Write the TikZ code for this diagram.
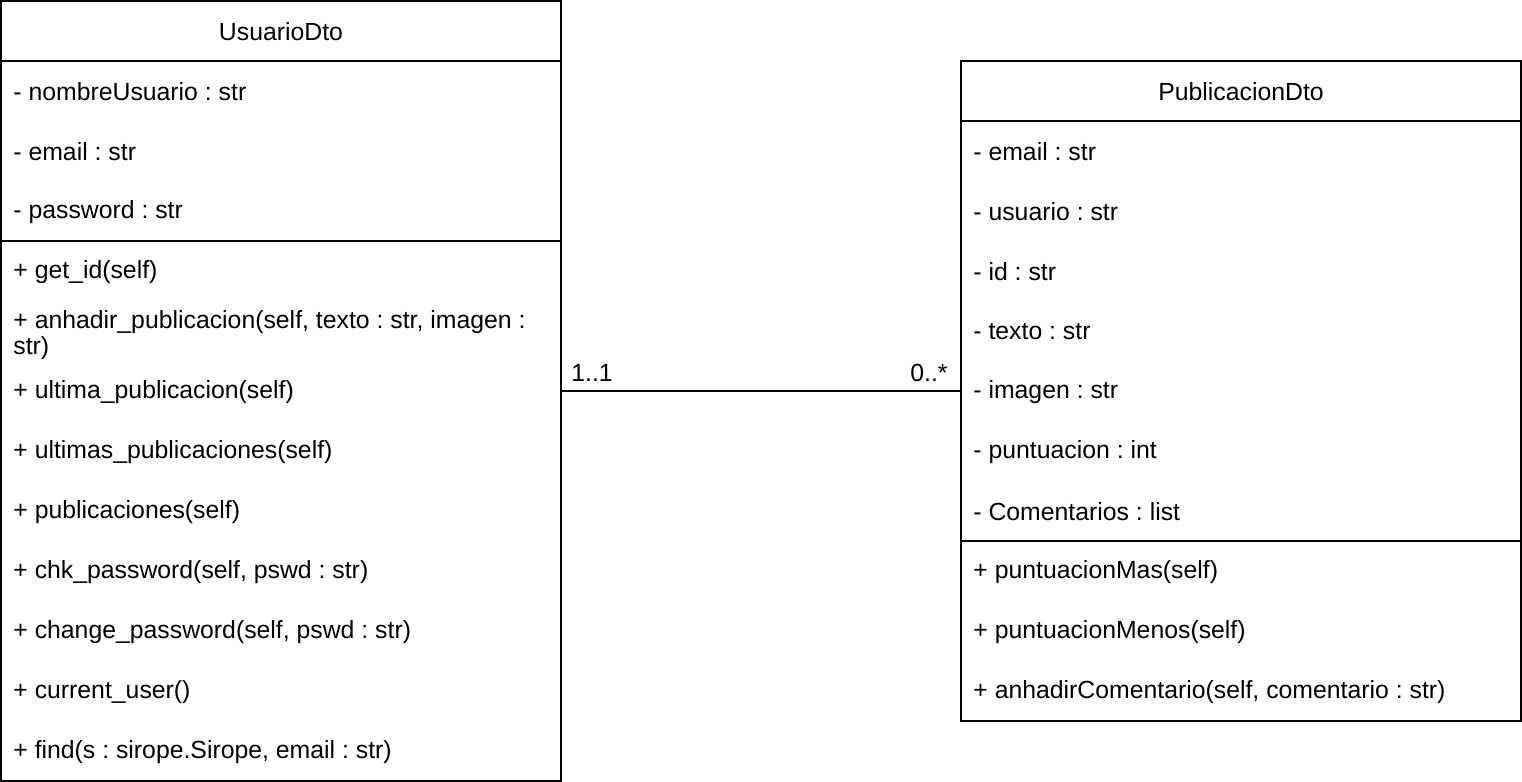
\documentclass[tikz,border=0pt]{standalone}
\usepackage{fontspec}
\setmainfont{Liberation Sans}
\frenchspacing
\begin{document}
\begin{tikzpicture}[
        x=0.5pt, y=-0.5pt,
        classbox/.style={draw, thick, rectangle, inner sep=0pt}, % Caja de clase
        title/.style={font=\fontsize{12.4}{13}\selectfont},
        member/.style={anchor=west, inner sep=0pt, font=\fontsize{12.4}{13}\selectfont, align=left},
        mult/.style={inner sep=0pt, font=\fontsize{12.4}{13}\selectfont},
    ]
    \useasboundingbox (0,0) rectangle (1522,782);

    % UsuarioDto
    \node[classbox, minimum width=280pt, minimum height=390pt] (usuario) at (281,391) {};
    \node[title] (usuarioTitle) at (281,32) {UsuarioDto};
    \draw[thick] (1,61) -- (561,61);
    \node[member] (uNombre) at (13,92) {- nombreUsuario : str};
    \node[member] (uEmail) at (13,152) {- email : str};
    \node[member] (uPassword) at (13,212) {- password : str};
    \draw[thick] (1,241) -- (561,241);
    \node[member] (uGetId) at (13,272) {+ get\_id(self)};
    \node[member] (uAnhadir) at (13,335) {+ anhadir\_publicacion(self, texto : str, imagen :\\str)};
    \node[member] (uUltima) at (13,392) {+ ultima\_publicacion(self)};
    \node[member] (uUltimas) at (13,452) {+ ultimas\_publicaciones(self)};
    \node[member] (uPublicaciones) at (13,512) {+ publicaciones(self)};
    \node[member] (uChk) at (13,572) {+ chk\_password(self, pswd : str)};
    \node[member] (uChange) at (13,632) {+ change\_password(self, pswd : str)};
    \node[member] (uCurrent) at (13,692) {+ current\_user()};
    \node[member] (uFind) at (13,752) {+ find(s : sirope.Sirope, email : str)};

    % PublicacionDto
    \node[classbox, minimum width=280pt, minimum height=330pt] (publicacion) at (1241,391) {};
    \node[title] (publicacionTitle) at (1241,92) {PublicacionDto};
    \draw[thick] (961,121) -- (1521,121);
    \node[member] (pEmail) at (973,152) {- email : str};
    \node[member] (pUsuario) at (973,212) {- usuario : str};
    \node[member] (pId) at (973,272) {- id : str};
    \node[member] (pTexto) at (973,332) {- texto : str};
    \node[member] (pImagen) at (973,392) {- imagen : str};
    \node[member] (pPuntuacion) at (973,452) {- puntuacion : int};
    \node[member] (pComentarios) at (973,512) {- Comentarios : list};
    \draw[thick] (961,541) -- (1521,541);
    \node[member] (pMas) at (973,572) {+ puntuacionMas(self)};
    \node[member] (pMenos) at (973,632) {+ puntuacionMenos(self)};
    \node[member] (pAnhadir) at (973,692) {+ anhadirComentario(self, comentario : str)};

    % Asociacion
    \draw[thick] (usuario) -- (publicacion);
    \node[mult, anchor=south west] (multUsuario) at (571,382) {1..1};
    \node[mult, anchor=south east] (multPublicacion) at (948,382) {0..*};
\end{tikzpicture}
\end{document}
